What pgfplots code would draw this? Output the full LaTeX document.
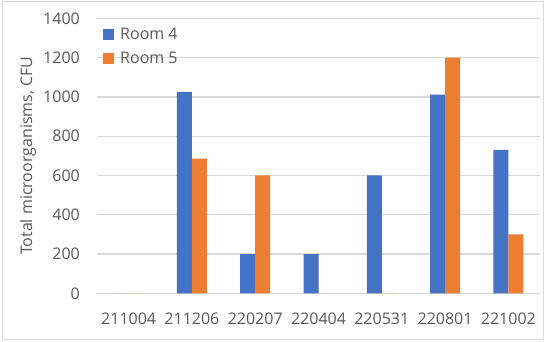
\documentclass[border=0pt]{standalone}
\usepackage{pgfplots}
\pgfplotsset{compat=1.18}
\usepackage{fontspec}
\setmainfont{Open Sans}
\definecolor{roomA}{HTML}{4472C4}
\definecolor{roomB}{HTML}{ED7D31}
\definecolor{gridc}{HTML}{D9D9D9}
\definecolor{txt}{HTML}{595959}

\begin{document}
\begin{tikzpicture}[x=1bp,y=1bp]
\useasboundingbox (0,0) rectangle (546,341);
\draw[gridc, line width=1bp] (2.5,2) rectangle (543.5,339);
\begin{axis}[
  at={(97bp,47.7bp)}, anchor=south west,
  scale only axis, width=443bp, height=275bp,
  ybar=0pt, bar width=15bp,
  xmin=-0.5, xmax=6.5, ymin=0, ymax=1400,
  xtick=data,
  xticklabels={211004,211206,220207,220404,220531,220801,221002},
  ytick={0,200,...,1400},
  /pgf/number format/assume math mode=true,
  /pgf/number format/set thousands separator={},
  major tick length=0pt,
  axis lines*=left,
  y axis line style={draw=none},
  x axis line style={gridc, line width=1.3bp},
  ymajorgrids, major grid style={gridc, line width=1.3bp},
  font=\fontsize{16bp}{19bp}\selectfont,
  tick label style={text=txt, inner sep=0pt},
  yticklabel style={anchor=east, xshift=-17bp},
  xticklabel style={anchor=north, yshift=-19bp},
  ylabel={Total microorganisms, CFU},
  every axis y label/.style={at={(axis description cs:0,0.5)}, xshift=-69bp, rotate=90, anchor=center, text=txt},
  legend style={at={(axis description cs:0,1)}, anchor=north west, xshift=6bp, yshift=-9bp,
    draw=none, fill=none, inner sep=0pt, row sep=9bp, text=txt,
    nodes={inner sep=1bp}, cells={anchor=west},
    /tikz/every odd column/.append style={column sep=5bp}},
  legend image code/.code={\fill[#1] (0bp,-5.5bp) rectangle (11bp,5.5bp);},
]
\addplot[fill=roomA, draw=none] coordinates {(0,0) (1,1025) (2,200) (3,200) (4,600) (5,1012) (6,730)};
\addplot[fill=roomB, draw=none] coordinates {(0,0) (1,685) (2,600) (3,0) (4,0) (5,1200) (6,300)};
\legend{Room 4, Room 5}
\end{axis}
\end{tikzpicture}
\end{document}
